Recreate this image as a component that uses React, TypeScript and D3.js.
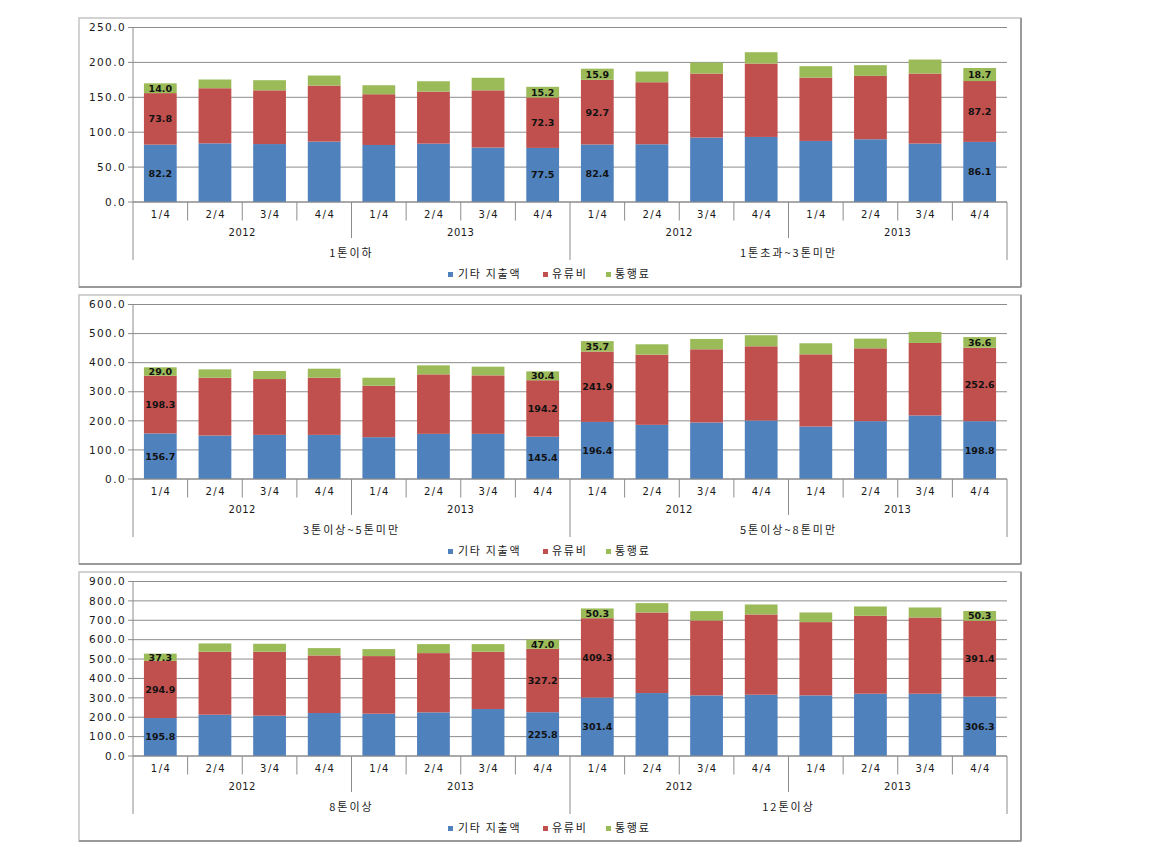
import React from "react";
import * as d3 from "d3";

const quarters = ["1/4", "2/4", "3/4", "4/4"];
const years = ["2012", "2013"];
const seriesNames = ["기타 지출액", "유류비", "통행료"];
const seriesColors = ["#4F81BD", "#C0504D", "#9BBB59"];

const p1Groups = ["1톤이하", "1톤초과~3톤미만"];
const p1Other = [82.2, 84.0, 83.0, 86.5, 81.7, 83.6, 78.0, 77.5, 82.4, 82.7, 92.3, 93.2, 87.5, 89.9, 83.7, 86.1];
const p1Fuel = [73.8, 79.0, 77.0, 80.3, 72.7, 74.6, 82.0, 72.3, 92.7, 88.9, 91.7, 105.2, 90.8, 90.8, 100.3, 87.2];
const p1Toll = [14.0, 12.5, 14.5, 14.4, 12.9, 14.8, 18.0, 15.2, 15.9, 15.3, 15.8, 16.2, 16.3, 15.3, 20.1, 18.7];

const p2Groups = ["3톤이상~5톤미만", "5톤이상~8톤미만"];
const p2Other = [156.7, 149.4, 151.7, 151.7, 143.7, 155.2, 155.2, 145.4, 196.4, 186.2, 194.3, 201.1, 180.5, 198.9, 218.4, 198.8];
const p2Fuel = [198.3, 198.9, 192.0, 196.6, 177.0, 204.6, 201.1, 194.2, 241.9, 241.4, 251.7, 255.2, 248.2, 250.5, 249.4, 252.6];
const p2Toll = [29.0, 28.7, 27.6, 31.0, 27.6, 31.0, 29.9, 30.4, 35.7, 35.6, 35.6, 38.0, 38.0, 33.4, 37.9, 36.6];

const p3Groups = ["8톤이상", "12톤이상"];
const p3Other = [195.8, 213.0, 207.8, 221.6, 218.1, 225.0, 242.2, 225.8, 301.4, 324.6, 312.6, 316.0, 312.6, 321.2, 321.2, 306.3];
const p3Fuel = [294.9, 324.6, 329.8, 297.1, 297.2, 305.7, 295.4, 327.2, 409.3, 415.7, 386.5, 414.0, 377.9, 401.9, 393.3, 391.4];
const p3Toll = [37.3, 42.9, 41.2, 37.8, 36.1, 46.4, 39.5, 47.0, 50.3, 48.1, 48.1, 51.5, 49.8, 48.1, 51.5, 50.3];

const labelledIdx = [0, 7, 8, 15];

const panels = [
  { groups: p1Groups, series: [p1Other, p1Fuel, p1Toll], max: 250, step: 50, top: 18 },
  { groups: p2Groups, series: [p2Other, p2Fuel, p2Toll], max: 600, step: 100, top: 295 },
  { groups: p3Groups, series: [p3Other, p3Fuel, p3Toll], max: 900, step: 100, top: 572 },
];

const NUM_FONT = "'DejaVu Sans', Verdana, sans-serif";
const KR_FONT = "'Noto Sans CJK KR', 'DejaVu Sans', sans-serif";
const GRID = "#8c8c8c";
const AXIS = "#8c8c8c";

function Panel({ p }: { p: (typeof panels)[number] }) {
  const left = 79, right = 1021;
  const x0 = 133, x1 = 1007;
  const y0 = p.top + 184;
  const yTopPx = y0 - 174.5;
  const bottom = p.top + 269;

  const cats: string[] = [];
  p.groups.forEach((g, gi) =>
    years.forEach((yr, yi) => quarters.forEach((q, qi) => cats.push(`${gi}-${yi}-${qi}`)))
  );

  const x = d3.scaleBand<string>().domain(cats).range([x0, x1]).paddingInner(0.4).paddingOuter(0.2);
  const y = d3.scaleLinear().domain([0, p.max]).range([y0, yTopPx]);
  const ticks = d3.range(0, p.max + 0.001, p.step);
  const step = x.step();
  const bandStart = (i: number) => x0 + i * (x1 - x0) / cats.length;

  const stackData = cats.map((c, i) => ({ key: c, a: p.series[0][i], b: p.series[1][i], c: p.series[2][i] }));
  const stack = d3.stack<any>().keys(["a", "b", "c"])(stackData);

  const legendCx = (left + right) / 2;
  const legendItems = [
    { sx: legendCx - 102, tx: legendCx - 92 },
    { sx: legendCx - 7, tx: legendCx + 2 },
    { sx: legendCx + 56, tx: legendCx + 65 },
  ];

  return (
    <g>
      <rect x={left} y={p.top} width={right - left} height={bottom - p.top} fill="#fff" stroke="#c4c4c4" strokeWidth={1.5} />
      <line x1={right} x2={right} y1={p.top} y2={bottom} stroke="#9a9a9a" strokeWidth={2} />
      <line x1={left} x2={right} y1={bottom} y2={bottom} stroke="#9a9a9a" strokeWidth={2} />
      {ticks.map((t) => (
        <g key={t}>
          <line x1={x0 - 5} x2={x1} y1={y(t)} y2={y(t)} stroke={GRID} strokeWidth={1} />
          <text
            x={126}
            y={y(t)}
            dy="0.35em"
            textAnchor="end"
            fontFamily={NUM_FONT}
            fontSize={10.5}
            letterSpacing={1.4}
            fill="#1a1a1a"
          >
            {t.toFixed(1)}
          </text>
        </g>
      ))}
      {stack.map((layer, si) =>
        layer.map((d, i) => (
          <rect
            key={`${si}-${i}`}
            x={x(cats[i])}
            width={x.bandwidth()}
            y={y(d[1])}
            height={y(d[0]) - y(d[1])}
            fill={seriesColors[si]}
          />
        ))
      )}
      {stack.map((layer, si) =>
        labelledIdx.map((i) => {
          const d = layer[i];
          return (
            <text
              key={`l${si}-${i}`}
              x={(x(cats[i]) as number) + x.bandwidth() / 2}
              y={(y(d[0]) + y(d[1])) / 2}
              dy="0.36em"
              textAnchor="middle"
              fontFamily={NUM_FONT}
              fontWeight="bold"
              fontSize={9.5}
              fill="#111"
            >
              {p.series[si][i].toFixed(1)}
            </text>
          );
        })
      )}
      <line x1={x0} x2={x1} y1={y0} y2={y0} stroke={AXIS} />
      <line x1={x0} x2={x0} y1={yTopPx} y2={y0 + 58} stroke={AXIS} />
      {cats.map((c, i) => {
        const bx = bandStart(i);
        let len = 18.5;
        if (i % 4 === 0 && i % 8 !== 0) len = 36;
        if (i === 8) len = 58;
        return i === 0 ? null : <line key={`t${c}`} x1={bx} x2={bx} y1={y0} y2={y0 + len} stroke={AXIS} />;
      })}
      <line x1={x1} x2={x1} y1={y0} y2={y0 + 58} stroke={AXIS} />
      {cats.map((c, i) => (
        <text
          key={`q${c}`}
          x={bandStart(i) + step / 2 + 0.8}
          y={y0 + 12}
          dy="0.35em"
          textAnchor="middle"
          fontFamily={NUM_FONT}
          fontSize={10}
          letterSpacing={1.5}
          fill="#1a1a1a"
        >
          {quarters[i % 4]}
        </text>
      ))}
      {p.groups.map((g, gi) =>
        years.map((yr, yi) => {
          const s = gi * 8 + yi * 4;
          return (
            <text
              key={`y${gi}${yi}`}
              x={(bandStart(s) + bandStart(s + 4)) / 2}
              y={y0 + 30}
              dy="0.35em"
              textAnchor="middle"
              fontFamily={NUM_FONT}
              fontSize={10}
              letterSpacing={0.5}
              fill="#1a1a1a"
            >
              {yr}
            </text>
          );
        })
      )}
      {p.groups.map((g, gi) => (
        <text
          key={`g${gi}`}
          x={(bandStart(gi * 8) + bandStart(gi * 8 + 8)) / 2}
          y={y0 + 51}
          dy="0.35em"
          textAnchor="middle"
          fontFamily={KR_FONT}
          fontSize={11}
          letterSpacing={2}
          fill="#1a1a1a"
        >
          {g}
        </text>
      ))}
      {seriesNames.map((s, si) => (
        <g key={`leg${si}`}>
          <rect x={legendItems[si].sx} y={y0 + 70} width={5} height={5} fill={seriesColors[si]} />
          <text
            x={legendItems[si].tx}
            y={y0 + 72.5}
            dy="0.36em"
            fontFamily={KR_FONT}
            fontSize={11}
            letterSpacing={1.7}
            fill="#1a1a1a"
          >
            {s}
          </text>
        </g>
      ))}
    </g>
  );
}

export default function App() {
  return (
    <svg width={1164} height={854} style={{ position: "absolute", left: 0, top: 0, background: "#fff" }}>
      <rect x={0} y={0} width={1164} height={854} fill="#fff" />
      {panels.map((p, i) => (
        <Panel key={i} p={p} />
      ))}
    </svg>
  );
}
